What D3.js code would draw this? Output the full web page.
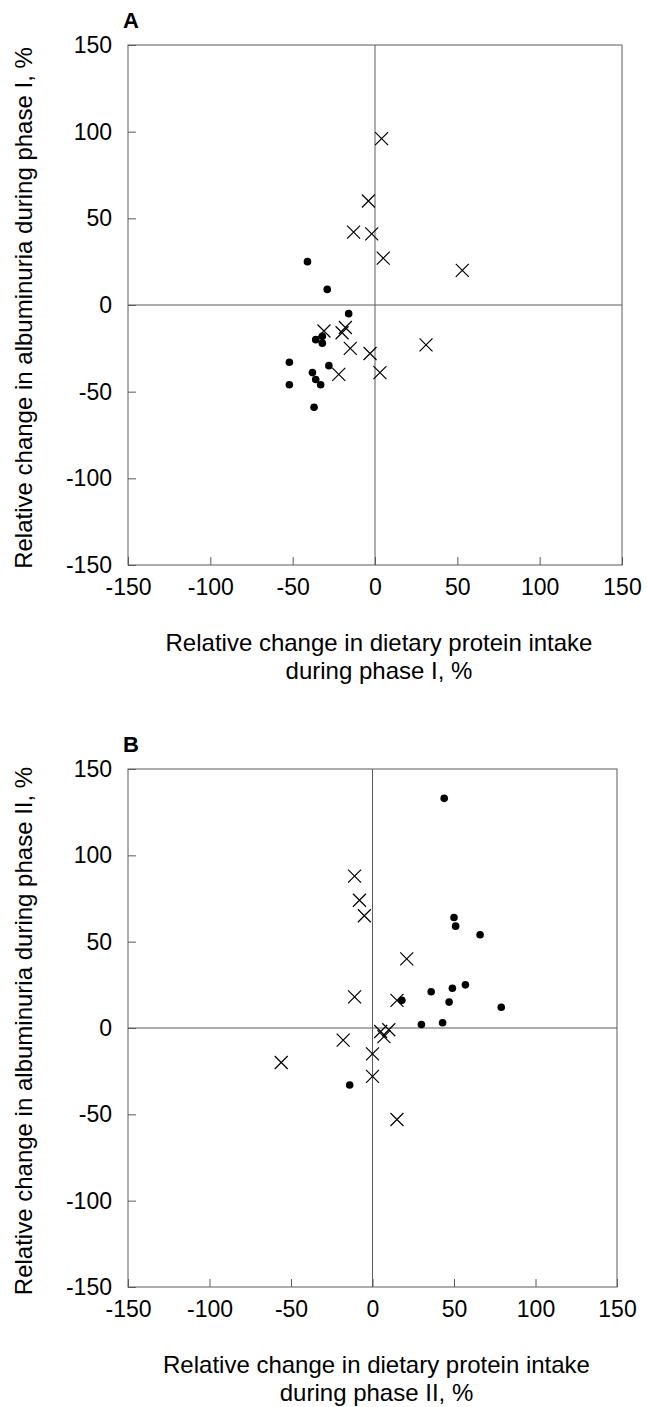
<!DOCTYPE html>
<html><head><meta charset="utf-8">
<script src="https://cdn.jsdelivr.net/npm/d3@7"></script>
<style>
body{margin:0;background:#fff}
text{font-family:"Liberation Sans",Arial,Helvetica,sans-serif;fill:#000}
</style>
</head><body><svg id="c" width="647" height="1407"></svg>
<script>
const tickValues = [-150, -100, -50, 0, 50, 100, 150];
const panelLabels = ["A", "B"];
const xTitlesA = ["Relative change in dietary protein intake", "during phase I, %"];
const xTitlesB = ["Relative change in dietary protein intake", "during phase II, %"];
const yTitleA = "Relative change in albuminuria during phase I, %";
const yTitleB = "Relative change in albuminuria during phase II, %";

// Panel A: dots and crosses [x, y]
const aDots = [[-41,25],[-29,9],[-16,-5],[-36,-20],[-32,-18],[-32,-22],[-52,-33],[-28,-35],[-38,-39],[-36,-43],[-33,-46],[-52,-46],[-37,-59]];
const aCrosses = [[4,96],[-4,60],[-13,42],[-2,41],[5,27],[53,20],[-31,-15],[-18,-13],[-20,-16],[-15,-25],[-3,-28],[31,-23],[-22,-40],[3,-39]];
// Panel B
const bDots = [[44,133],[50,64],[51,59],[66,54],[36,21],[49,23],[57,25],[47,15],[79,12],[18,16],[30,2],[43,3],[-14,-33]];
const bCrosses = [[-11,88],[-8,74],[-5,65],[21,40],[-11,18],[15,16],[5,-2],[7,-5],[10,-1],[-18,-7],[0,-15],[0,-28],[-56,-20],[15,-53]];

const svg = d3.select("#c");
const fmt = d => String(d); // plain hyphen-minus

function panel(cfg) {
  const x = d3.scaleLinear().domain([-150, 150]).range([cfg.left, cfg.right]);
  const y = d3.scaleLinear().domain([-150, 150]).range([cfg.bottom, cfg.top]);
  const g = svg.append("g");
  const lineCol = "#5a5a5a";

  g.append("rect").attr("x", cfg.left).attr("y", cfg.top)
    .attr("width", cfg.right - cfg.left).attr("height", cfg.bottom - cfg.top)
    .attr("fill", "none").attr("stroke", lineCol).attr("stroke-width", 1);
  g.append("line").attr("x1", x(0)).attr("x2", x(0)).attr("y1", cfg.top).attr("y2", cfg.bottom)
    .attr("stroke", lineCol).attr("stroke-width", 1);
  g.append("line").attr("x1", cfg.left).attr("x2", cfg.right).attr("y1", y(0)).attr("y2", y(0))
    .attr("stroke", lineCol).attr("stroke-width", 1);

  const xa = g.append("g").attr("transform", `translate(0,${cfg.bottom})`)
    .call(d3.axisBottom(x).tickValues(tickValues).tickFormat(fmt).tickSizeInner(-8).tickSizeOuter(0).tickPadding(14));
  const ya = g.append("g").attr("transform", `translate(${cfg.left},0)`)
    .call(d3.axisLeft(y).tickValues(tickValues).tickFormat(fmt).tickSizeInner(-8).tickSizeOuter(0).tickPadding(16));
  [xa, ya].forEach(a => {
    a.select(".domain").remove();
    a.selectAll("line").attr("stroke", lineCol);
    a.selectAll("text").attr("font-size", 23).attr("font-family", '"Liberation Sans",Arial,sans-serif').attr("fill", "#000");
  });

  g.append("text").attr("x", cfg.left - 5).attr("y", cfg.top - 17)
    .attr("font-size", 22).attr("font-weight", "bold").text(cfg.label);

  cfg.xTitles.forEach((t, i) => {
    g.append("text").attr("x", (cfg.left + cfg.right) / 2 + 4).attr("y", cfg.bottom + 86 + i * 28)
      .attr("text-anchor", "middle").attr("font-size", 24).text(t);
  });
  g.append("text").attr("transform", `translate(32,${(cfg.top + cfg.bottom) / 2 + 3}) rotate(-90)`)
    .attr("text-anchor", "middle").attr("font-size", 24).text(cfg.yTitle);

  g.selectAll("circle.d").data(cfg.dots).join("circle")
    .attr("cx", d => x(d[0])).attr("cy", d => y(d[1])).attr("r", 3.8).attr("fill", "#000");
  const s = 6.5;
  g.selectAll("path.x").data(cfg.crosses).join("path")
    .attr("d", d => {
      const cx = x(d[0]), cy = y(d[1]);
      return `M${cx - s},${cy - s}L${cx + s},${cy + s}M${cx - s},${cy + s}L${cx + s},${cy - s}`;
    })
    .attr("stroke", "#000").attr("stroke-width", 1.2).attr("fill", "none");
}

panel({left: 128, right: 622, top: 45, bottom: 565, label: panelLabels[0],
  xTitles: xTitlesA, yTitle: yTitleA, dots: aDots, crosses: aCrosses});
panel({left: 128, right: 617, top: 769, bottom: 1287, label: panelLabels[1],
  xTitles: xTitlesB, yTitle: yTitleB, dots: bDots, crosses: bCrosses});
</script>
</body></html>
